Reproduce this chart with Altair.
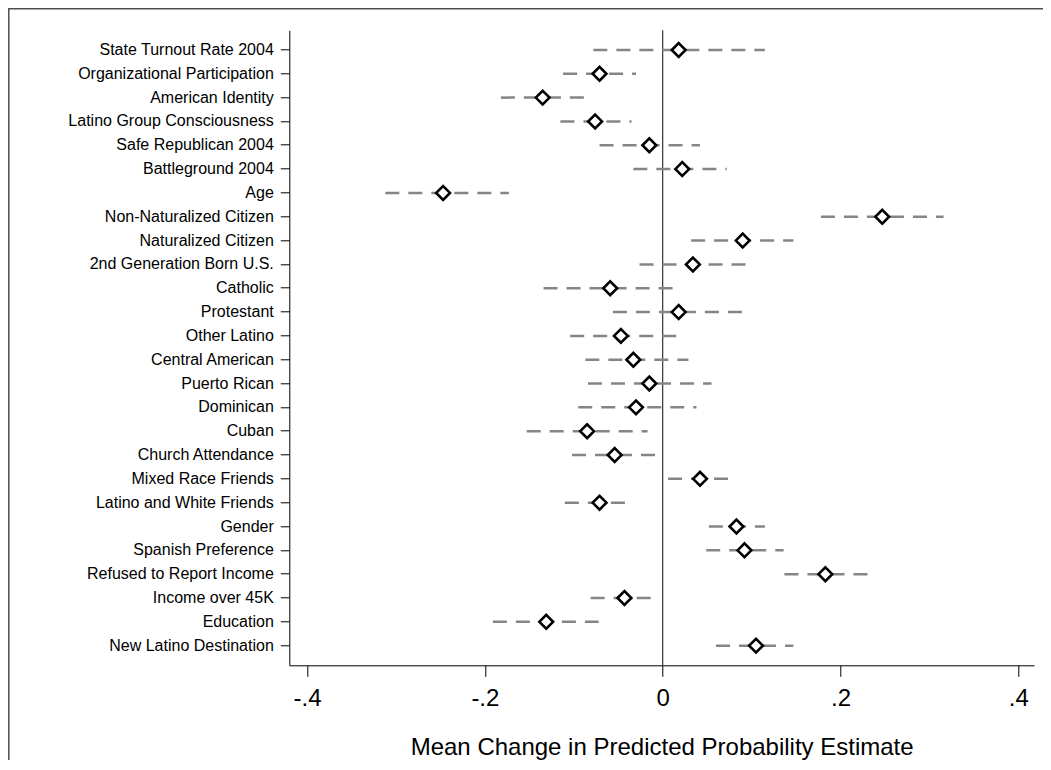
import json
import altair as alt
import pandas as pd

labels = [
    "State Turnout Rate 2004", "Organizational Participation", "American Identity",
    "Latino Group Consciousness", "Safe Republican 2004", "Battleground 2004", "Age",
    "Non-Naturalized Citizen", "Naturalized Citizen", "2nd Generation Born U.S.",
    "Catholic", "Protestant", "Other Latino", "Central American", "Puerto Rican",
    "Dominican", "Cuban", "Church Attendance", "Mixed Race Friends",
    "Latino and White Friends", "Gender", "Spanish Preference",
    "Refused to Report Income", "Income over 45K", "Education", "New Latino Destination",
]
estimate = [0.018, -0.071, -0.135, -0.076, -0.015, 0.022, -0.247, 0.247, 0.090, 0.034,
            -0.059, 0.018, -0.047, -0.033, -0.015, -0.030, -0.085, -0.054, 0.042,
            -0.071, 0.083, 0.092, 0.183, -0.043, -0.131, 0.105]
lower = [-0.078, -0.112, -0.182, -0.115, -0.071, -0.033, -0.312, 0.178, 0.032, -0.026,
         -0.134, -0.056, -0.104, -0.087, -0.084, -0.095, -0.153, -0.102, 0.006,
         -0.110, 0.052, 0.049, 0.137, -0.081, -0.191, 0.060]
upper = [0.115, -0.030, -0.087, -0.035, 0.042, 0.072, -0.173, 0.316, 0.147, 0.095,
         0.013, 0.091, 0.017, 0.029, 0.055, 0.038, -0.017, -0.007, 0.075,
         -0.041, 0.115, 0.136, 0.234, -0.012, -0.072, 0.147]

x_tick_values = [-0.4, -0.2, 0, 0.2, 0.4]
x_tick_labels = ["-.4", "-.2", "0", ".2", ".4"]
x_title = "Mean Change in Predicted Probability Estimate"

df = pd.DataFrame({"label": labels, "est": estimate, "lo": lower, "hi": upper})

FONT = "Liberation Sans"
W, H = 744.7, 635

label_expr = json.dumps(x_tick_labels) + "[round((datum.value + 0.4) / 0.2)]"

xscale = alt.Scale(domain=[-0.42, 0.4177], nice=False, zero=False)
yenc = alt.Y("label:N", sort=labels, scale=alt.Scale(padding=0.65), title=None,
             axis=alt.Axis(labelFont=FONT, labelFontSize=16, labelColor="#000000",
                           tickSize=9, tickColor="#000000", labelPadding=7,
                           domainColor="#000000", domainWidth=1, tickWidth=1,
                           labelLimit=400))

base = alt.Chart(df)

ci = base.mark_rule(color="#858585", strokeWidth=2.5, strokeDash=[14, 9]).encode(
    x=alt.X("lo:Q", scale=xscale,
            axis=alt.Axis(values=x_tick_values, labelExpr=label_expr, title=x_title,
                          labelFont=FONT, labelFontSize=24, labelColor="#000000",
                          titleFont=FONT, titleFontSize=24, titleColor="#000000",
                          titleFontWeight="normal", tickSize=11, tickColor="#000000",
                          tickWidth=1, domainColor="#000000", domainWidth=1,
                          labelPadding=10, titlePadding=25, grid=False)),
    x2="hi:Q",
    y=yenc,
)

zero = alt.Chart(pd.DataFrame({"z": [0]})).mark_rule(color="#333333", strokeWidth=1.2).encode(
    x=alt.X("z:Q", scale=xscale)
)

pts = base.mark_point(shape="diamond", size=190, filled=False, fill="white",
                      fillOpacity=1, stroke="black", strokeWidth=2.6, opacity=1).encode(
    x=alt.X("est:Q", scale=xscale),
    y=alt.Y("label:N", sort=labels),
)

frame = alt.Chart(pd.DataFrame({"f": [1]})).mark_rect(
    fill="white", fillOpacity=0, stroke="#4d4d4d", strokeWidth=1.5).encode(
    x=alt.value(-280.5), x2=alt.value(900), y=alt.value(-21.5), y2=alt.value(900)
)

chart = alt.layer(frame, zero, ci, pts).properties(
    width=W, height=H,
    autosize=alt.AutoSizeParams(type="none"),
    padding={"left": 281.3, "top": 22.3, "right": 9, "bottom": 94.7},
).configure_view(stroke=None).configure_axis(grid=False)

chart.save("out.html", embed_options={"renderer": "svg", "actions": False})
